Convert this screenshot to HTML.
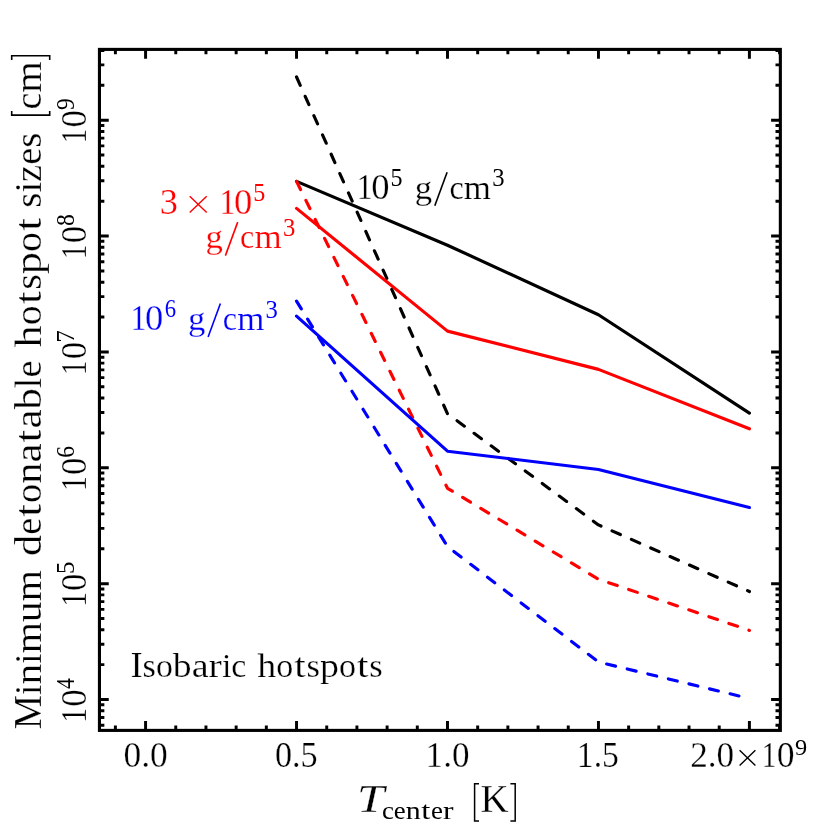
<!DOCTYPE html>
<html lang="en"><head><meta charset="utf-8"><title>Minimum detonatable hotspot sizes</title>
<style>html,body{margin:0;padding:0;background:#fff;width:830px;height:830px;overflow:hidden}text{white-space:pre}</style></head>
<body>
<svg width="830" height="830" viewBox="0 0 830 830" style="display:block;position:absolute;left:0;top:0;will-change:transform">
<rect x="0" y="0" width="830" height="830" fill="#fff"/>
<path d="M115.39 730.35 v-4.9 M115.39 49.4 v4.9 M145.58 730.35 v-9.3 M145.58 49.4 v9.3 M175.77 730.35 v-4.9 M175.77 49.4 v4.9 M205.96 730.35 v-4.9 M205.96 49.4 v4.9 M236.15 730.35 v-4.9 M236.15 49.4 v4.9 M266.34 730.35 v-4.9 M266.34 49.4 v4.9 M296.54 730.35 v-9.3 M296.54 49.4 v9.3 M326.73 730.35 v-4.9 M326.73 49.4 v4.9 M356.92 730.35 v-4.9 M356.92 49.4 v4.9 M387.11 730.35 v-4.9 M387.11 49.4 v4.9 M417.30 730.35 v-4.9 M417.30 49.4 v4.9 M447.49 730.35 v-9.3 M447.49 49.4 v9.3 M477.68 730.35 v-4.9 M477.68 49.4 v4.9 M507.87 730.35 v-4.9 M507.87 49.4 v4.9 M538.06 730.35 v-4.9 M538.06 49.4 v4.9 M568.25 730.35 v-4.9 M568.25 49.4 v4.9 M598.45 730.35 v-9.3 M598.45 49.4 v9.3 M628.64 730.35 v-4.9 M628.64 49.4 v4.9 M658.83 730.35 v-4.9 M658.83 49.4 v4.9 M689.02 730.35 v-4.9 M689.02 49.4 v4.9 M719.21 730.35 v-4.9 M719.21 49.4 v4.9 M749.40 730.35 v-9.3 M749.40 49.4 v9.3 M779.59 730.35 v-4.9 M779.59 49.4 v4.9 M99.45 725.23 h4.9 M780.4 725.23 h-4.9 M99.45 717.47 h4.9 M780.4 717.47 h-4.9 M99.45 710.75 h4.9 M780.4 710.75 h-4.9 M99.45 704.82 h4.9 M780.4 704.82 h-4.9 M99.45 699.52 h9.3 M780.4 699.52 h-9.3 M99.45 664.64 h4.9 M780.4 664.64 h-4.9 M99.45 644.24 h4.9 M780.4 644.24 h-4.9 M99.45 629.76 h4.9 M780.4 629.76 h-4.9 M99.45 618.53 h4.9 M780.4 618.53 h-4.9 M99.45 609.36 h4.9 M780.4 609.36 h-4.9 M99.45 601.60 h4.9 M780.4 601.60 h-4.9 M99.45 594.88 h4.9 M780.4 594.88 h-4.9 M99.45 588.95 h4.9 M780.4 588.95 h-4.9 M99.45 583.65 h9.3 M780.4 583.65 h-9.3 M99.45 548.77 h4.9 M780.4 548.77 h-4.9 M99.45 528.37 h4.9 M780.4 528.37 h-4.9 M99.45 513.89 h4.9 M780.4 513.89 h-4.9 M99.45 502.66 h4.9 M780.4 502.66 h-4.9 M99.45 493.49 h4.9 M780.4 493.49 h-4.9 M99.45 485.73 h4.9 M780.4 485.73 h-4.9 M99.45 479.01 h4.9 M780.4 479.01 h-4.9 M99.45 473.08 h4.9 M780.4 473.08 h-4.9 M99.45 467.78 h9.3 M780.4 467.78 h-9.3 M99.45 432.90 h4.9 M780.4 432.90 h-4.9 M99.45 412.50 h4.9 M780.4 412.50 h-4.9 M99.45 398.02 h4.9 M780.4 398.02 h-4.9 M99.45 386.79 h4.9 M780.4 386.79 h-4.9 M99.45 377.62 h4.9 M780.4 377.62 h-4.9 M99.45 369.86 h4.9 M780.4 369.86 h-4.9 M99.45 363.14 h4.9 M780.4 363.14 h-4.9 M99.45 357.21 h4.9 M780.4 357.21 h-4.9 M99.45 351.91 h9.3 M780.4 351.91 h-9.3 M99.45 317.03 h4.9 M780.4 317.03 h-4.9 M99.45 296.63 h4.9 M780.4 296.63 h-4.9 M99.45 282.15 h4.9 M780.4 282.15 h-4.9 M99.45 270.92 h4.9 M780.4 270.92 h-4.9 M99.45 261.75 h4.9 M780.4 261.75 h-4.9 M99.45 253.99 h4.9 M780.4 253.99 h-4.9 M99.45 247.27 h4.9 M780.4 247.27 h-4.9 M99.45 241.34 h4.9 M780.4 241.34 h-4.9 M99.45 236.04 h9.3 M780.4 236.04 h-9.3 M99.45 201.16 h4.9 M780.4 201.16 h-4.9 M99.45 180.76 h4.9 M780.4 180.76 h-4.9 M99.45 166.28 h4.9 M780.4 166.28 h-4.9 M99.45 155.05 h4.9 M780.4 155.05 h-4.9 M99.45 145.88 h4.9 M780.4 145.88 h-4.9 M99.45 138.12 h4.9 M780.4 138.12 h-4.9 M99.45 131.40 h4.9 M780.4 131.40 h-4.9 M99.45 125.47 h4.9 M780.4 125.47 h-4.9 M99.45 120.17 h9.3 M780.4 120.17 h-9.3 M99.45 85.29 h4.9 M780.4 85.29 h-4.9 M99.45 64.89 h4.9 M780.4 64.89 h-4.9 M99.45 50.41 h4.9 M780.4 50.41 h-4.9" stroke="#000" stroke-width="2.95" fill="none"/>
<polyline points="296.54,77.00 447.49,413.70 598.45,524.90 749.40,591.50" fill="none" stroke="#000" stroke-width="3.15" stroke-linecap="round" stroke-linejoin="round" stroke-dasharray="9.1 12.06"/>
<polyline points="296.54,181.40 447.49,245.20 598.45,314.70 749.40,413.10" fill="none" stroke="#000" stroke-width="3.15" stroke-linecap="round" stroke-linejoin="round"/>
<polyline points="296.54,181.40 447.49,488.30 598.45,579.20 749.40,630.40" fill="none" stroke="#f00" stroke-width="3.15" stroke-linecap="round" stroke-linejoin="round" stroke-dasharray="9.1 12.06"/>
<polyline points="296.54,208.40 447.49,331.10 598.45,369.40 749.40,428.80" fill="none" stroke="#f00" stroke-width="3.15" stroke-linecap="round" stroke-linejoin="round"/>
<polyline points="296.54,301.10 447.49,546.60 598.45,662.00 749.40,698.50" fill="none" stroke="#00f" stroke-width="3.15" stroke-linecap="round" stroke-linejoin="round" stroke-dasharray="9.1 12.06"/>
<polyline points="296.54,316.10 447.49,451.20 598.45,469.50 749.40,507.50" fill="none" stroke="#00f" stroke-width="3.15" stroke-linecap="round" stroke-linejoin="round"/>
<rect x="99.45" y="49.4" width="680.9" height="681.0" fill="none" stroke="#000" stroke-width="3.1"/>
<g font-family="Liberation Serif, serif" fill="#000" stroke="#fff" stroke-width="0.25" style="font-kerning:none">
<text transform="translate(123.45,766.50) scale(1.0040,1)" font-size="35.3">0.0</text>
<text transform="translate(274.90,766.50) scale(0.9686,1)" font-size="35.3">0.5</text>
<text transform="translate(425.62,766.50) scale(0.9930,1)" font-size="35.3">1.0</text>
<text transform="translate(576.85,766.50) scale(0.9510,1)" font-size="35.3">1.5</text>
<text transform="translate(690.15,766.50) scale(0.9969,1)" font-size="35.3">2.0</text>
<path d="M739.60 750.30 L755.40 765.50 M739.60 765.50 L755.40 750.30" stroke="#000" stroke-width="1.4" fill="none"/>
<text transform="translate(761.73,766.50) scale(0.8288,1)" font-size="35.3">1</text>
<text transform="translate(776.84,766.50) scale(1.0093,1)" font-size="35.3">0</text>
<text transform="translate(794.91,754.60) scale(1.0154,1)" font-size="24.0" stroke="none">9</text>
<g transform="translate(86.3,720.12) rotate(-90)">
<text transform="translate(-2.62,0.00) scale(0.8449,1)" font-size="35.3">1</text>
<text transform="translate(13.37,0.00) scale(0.9892,1)" font-size="35.3">0</text>
<text transform="translate(31.18,-12.20) scale(0.8781,1)" font-size="24.5" stroke="none">4</text>
</g>
<g transform="translate(86.3,604.25) rotate(-90)">
<text transform="translate(-2.62,0.00) scale(0.8449,1)" font-size="35.3">1</text>
<text transform="translate(13.37,0.00) scale(0.9892,1)" font-size="35.3">0</text>
<text transform="translate(30.16,-12.20) scale(1.0132,1)" font-size="24.5" stroke="none">5</text>
</g>
<g transform="translate(86.3,488.38) rotate(-90)">
<text transform="translate(-2.62,0.00) scale(0.8449,1)" font-size="35.3">1</text>
<text transform="translate(13.37,0.00) scale(0.9892,1)" font-size="35.3">0</text>
<text transform="translate(30.59,-12.20) scale(0.9553,1)" font-size="24.5" stroke="none">6</text>
</g>
<g transform="translate(86.3,372.51) rotate(-90)">
<text transform="translate(-2.62,0.00) scale(0.8449,1)" font-size="35.3">1</text>
<text transform="translate(13.37,0.00) scale(0.9892,1)" font-size="35.3">0</text>
<text transform="translate(29.97,-12.20) scale(1.0071,1)" font-size="24.5" stroke="none">7</text>
</g>
<g transform="translate(86.3,256.64) rotate(-90)">
<text transform="translate(-2.62,0.00) scale(0.8449,1)" font-size="35.3">1</text>
<text transform="translate(13.37,0.00) scale(0.9892,1)" font-size="35.3">0</text>
<text transform="translate(30.70,-12.20) scale(0.9630,1)" font-size="24.5" stroke="none">8</text>
</g>
<g transform="translate(86.3,140.77) rotate(-90)">
<text transform="translate(-2.62,0.00) scale(0.8449,1)" font-size="35.3">1</text>
<text transform="translate(13.37,0.00) scale(0.9892,1)" font-size="35.3">0</text>
<text transform="translate(30.84,-12.20) scale(0.9564,1)" font-size="24.5" stroke="none">9</text>
</g>
<g transform="translate(41.0,728.1) rotate(-90)">
<text transform="translate(-1.08,0.00) scale(0.9453,1)" font-size="40.80">M</text>
<text transform="translate(33.21,0.00) scale(0.9951,1)" font-size="37.60">i</text>
<text transform="translate(43.61,0.00) scale(1.1059,1)" font-size="37.60">n</text>
<text transform="translate(64.40,0.00) scale(0.9951,1)" font-size="37.60">i</text>
<text transform="translate(74.79,0.00) scale(1.0651,1)" font-size="37.60">m</text>
<text transform="translate(105.94,0.00) scale(1.1059,1)" font-size="37.60">u</text>
<text transform="translate(126.74,0.00) scale(1.0651,1)" font-size="37.60">m</text>
<text transform="translate(172.02,0.00) scale(1.1311,1)" font-size="37.60">d</text>
<text transform="translate(193.28,0.00) scale(1.0175,1)" font-size="37.60">e</text>
<text transform="translate(211.33,0.00) scale(1.2200,1)" font-size="37.60">t</text>
<text transform="translate(225.14,0.00) scale(1.0172,1)" font-size="37.60">o</text>
<text transform="translate(244.26,0.00) scale(1.1311,1)" font-size="37.60">n</text>
<text transform="translate(265.53,0.00) scale(1.1458,1)" font-size="37.60">a</text>
<text transform="translate(285.72,0.00) scale(1.2200,1)" font-size="37.60">t</text>
<text transform="translate(299.53,0.00) scale(1.1458,1)" font-size="37.60">a</text>
<text transform="translate(318.65,0.00) scale(1.1311,1)" font-size="37.60">b</text>
<text transform="translate(339.91,0.00) scale(1.0178,1)" font-size="37.60">l</text>
<text transform="translate(350.55,0.00) scale(1.0175,1)" font-size="37.60">e</text>
<text transform="translate(380.71,0.00) scale(1.1772,1)" font-size="37.60">h</text>
<text transform="translate(402.84,0.00) scale(1.0587,1)" font-size="37.60">o</text>
<text transform="translate(424.12,0.00) scale(1.2200,1)" font-size="37.60">t</text>
<text transform="translate(438.23,0.00) scale(1.0718,1)" font-size="37.60">s</text>
<text transform="translate(453.91,0.00) scale(1.1772,1)" font-size="37.60">p</text>
<text transform="translate(476.05,0.00) scale(1.0587,1)" font-size="37.60">o</text>
<text transform="translate(497.32,0.00) scale(1.2200,1)" font-size="37.60">t</text>
<text transform="translate(520.32,0.00) scale(1.0358,1)" font-size="37.60">s</text>
<text transform="translate(535.48,0.00) scale(1.0237,1)" font-size="37.60">i</text>
<text transform="translate(546.17,0.00) scale(1.0235,1)" font-size="37.60">z</text>
<text transform="translate(563.25,0.00) scale(1.0235,1)" font-size="37.60">e</text>
<text transform="translate(580.33,0.00) scale(1.0358,1)" font-size="37.60">s</text>
<path d="M617.10 -29.30 L613.00 -29.30 L613.00 8.70 L617.10 8.70" fill="none" stroke="#000" stroke-width="1.6" stroke-linecap="butt" stroke-linejoin="miter"/>
<text transform="translate(618.56,0.00) scale(1.0048,1)" font-size="37.60">c</text>
<text transform="translate(635.33,0.00) scale(1.0757,1)" font-size="37.60">m</text>
<path d="M668.20 -29.30 L672.30 -29.30 L672.30 8.70 L668.20 8.70" fill="none" stroke="#000" stroke-width="1.6" stroke-linecap="butt" stroke-linejoin="miter"/>
</g>
<text transform="translate(356.99,812.30) scale(1.2432,1)" font-size="39.5" font-style="italic">T</text>
<text transform="translate(381.88,818.50) scale(1.0658,1)" font-size="25.20" stroke="none">c</text>
<text transform="translate(393.80,818.50) scale(1.0658,1)" font-size="25.20" stroke="none">e</text>
<text transform="translate(405.72,818.50) scale(1.1847,1)" font-size="25.20" stroke="none">n</text>
<text transform="translate(421.32,818.50) scale(1.3000,1)" font-size="25.20" stroke="none">t</text>
<text transform="translate(431.09,818.50) scale(1.0658,1)" font-size="25.20" stroke="none">e</text>
<text transform="translate(443.01,818.50) scale(1.2542,1)" font-size="25.20" stroke="none">r</text>
<path d="M479.00 783.70 L474.60 783.70 L474.60 821.10 L479.00 821.10" fill="none" stroke="#000" stroke-width="1.5" stroke-linecap="butt" stroke-linejoin="miter"/>
<text transform="translate(480.38,812.30) scale(0.9735,1)" font-size="40">K</text>
<path d="M510.40 783.70 L515.20 783.70 L515.20 821.10 L510.40 821.10" fill="none" stroke="#000" stroke-width="1.5" stroke-linecap="butt" stroke-linejoin="miter"/>
<text transform="translate(130.38,676.60) scale(0.9979,1)" font-size="36.78">I</text>
<text transform="translate(142.60,676.60) scale(1.0112,1)" font-size="33.90">s</text>
<text transform="translate(155.94,676.60) scale(0.9988,1)" font-size="33.90">o</text>
<text transform="translate(172.87,676.60) scale(1.1106,1)" font-size="33.90">b</text>
<text transform="translate(191.69,676.60) scale(1.1251,1)" font-size="33.90">a</text>
<text transform="translate(208.62,676.60) scale(1.1757,1)" font-size="33.90">r</text>
<text transform="translate(221.90,676.60) scale(0.9994,1)" font-size="33.90">i</text>
<text transform="translate(231.31,676.60) scale(0.9991,1)" font-size="33.90">c</text>
<text transform="translate(257.37,676.60) scale(1.1181,1)" font-size="33.90">h</text>
<text transform="translate(276.32,676.60) scale(1.0055,1)" font-size="33.90">o</text>
<text transform="translate(294.25,676.60) scale(1.2200,1)" font-size="33.90">t</text>
<text transform="translate(306.62,676.60) scale(1.0180,1)" font-size="33.90">s</text>
<text transform="translate(320.05,676.60) scale(1.1181,1)" font-size="33.90">p</text>
<text transform="translate(339.00,676.60) scale(1.0055,1)" font-size="33.90">o</text>
<text transform="translate(356.93,676.60) scale(1.2200,1)" font-size="33.90">t</text>
<text transform="translate(369.30,676.60) scale(1.0180,1)" font-size="33.90">s</text>
<text transform="translate(356.80,199.10) scale(0.9012,1)" font-size="35.3">1</text>
<text transform="translate(371.31,199.10) scale(1.0360,1)" font-size="35.3">0</text>
<text transform="translate(390.60,186.00) scale(0.9828,1)" font-size="24.5" stroke="none">5</text>
<text transform="translate(414.81,198.50) scale(1.0359,1)" font-size="33.5">g</text>
<path d="M434.80 205.70 L447.10 172.20" fill="none" stroke="#000" stroke-width="1.6" stroke-linecap="butt" stroke-linejoin="miter"/>
<text transform="translate(449.48,198.50) scale(0.9552,1)" font-size="33.5">c</text>
<text transform="translate(463.87,198.50) scale(1.0431,1)" font-size="33.5">m</text>
<text transform="translate(492.32,186.30) scale(1.0078,1)" font-size="24.5" stroke="none">3</text>
<text transform="translate(130.50,330.40) scale(0.9012,1)" font-size="35.3" fill="#00f">1</text>
<text transform="translate(145.01,330.40) scale(1.0360,1)" font-size="35.3" fill="#00f">0</text>
<text transform="translate(164.72,317.30) scale(0.9267,1)" font-size="24.5" fill="#00f" stroke="none">6</text>
<text transform="translate(188.11,329.80) scale(1.0359,1)" font-size="33.5" fill="#00f">g</text>
<path d="M208.10 337.00 L220.40 303.50" fill="none" stroke="#00f" stroke-width="1.6" stroke-linecap="butt" stroke-linejoin="miter"/>
<text transform="translate(222.78,329.80) scale(0.9552,1)" font-size="33.5" fill="#00f">c</text>
<text transform="translate(237.17,329.80) scale(1.0431,1)" font-size="33.5" fill="#00f">m</text>
<text transform="translate(265.62,317.60) scale(1.0078,1)" font-size="24.5" fill="#00f" stroke="none">3</text>
<text transform="translate(159.86,214.30) scale(1.0287,1)" font-size="35.3" fill="#f00">3</text>
<path d="M189.70 196.20 L206.70 212.60 M189.70 212.60 L206.70 196.20" stroke="#f00" stroke-width="1.4" fill="none"/>
<text transform="translate(219.50,214.30) scale(0.9012,1)" font-size="35.3" fill="#f00">1</text>
<text transform="translate(234.01,214.30) scale(1.0360,1)" font-size="35.3" fill="#f00">0</text>
<text transform="translate(253.30,201.20) scale(0.9828,1)" font-size="24.5" fill="#f00" stroke="none">5</text>
<text transform="translate(205.41,248.40) scale(1.0359,1)" font-size="33.5" fill="#f00">g</text>
<path d="M225.40 255.60 L237.70 222.10" fill="none" stroke="#f00" stroke-width="1.6" stroke-linecap="butt" stroke-linejoin="miter"/>
<text transform="translate(240.08,248.40) scale(0.9552,1)" font-size="33.5" fill="#f00">c</text>
<text transform="translate(254.47,248.40) scale(1.0431,1)" font-size="33.5" fill="#f00">m</text>
<text transform="translate(282.92,236.20) scale(1.0078,1)" font-size="24.5" fill="#f00" stroke="none">3</text>
</g>
</svg>
</body></html>
